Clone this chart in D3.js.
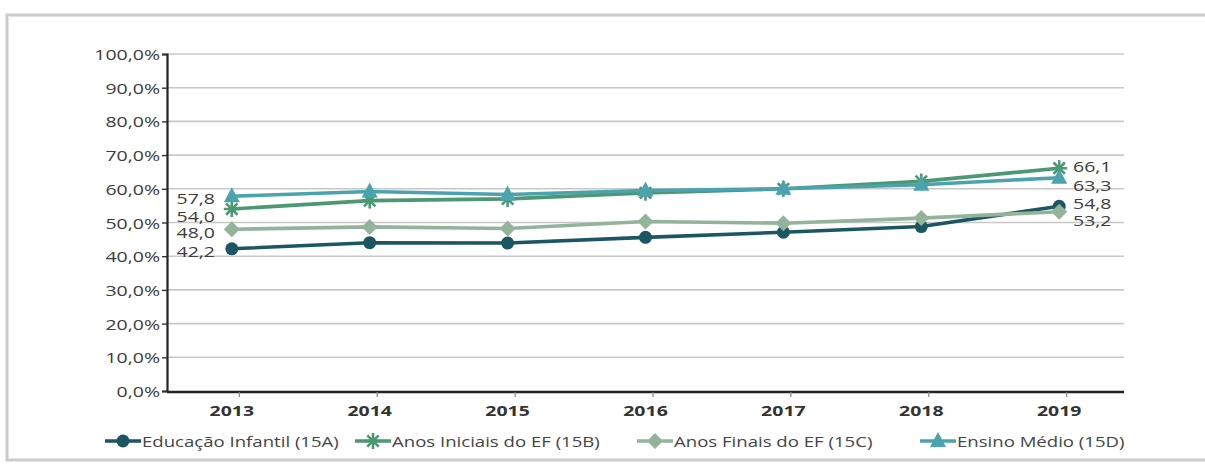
<!DOCTYPE html>
<html>
<head>
    <meta charset="utf-8">
    <style>
        body { margin: 0; background: #fff; }
        text { font-family: "Open Sans", sans-serif; fill: #3c3c3c; }
        .grid line { stroke: #c8c8c8; stroke-width: 1.6; }
        .xlab { font-weight: bold; fill: #333; }
    </style>
    <script src="https://d3js.org/d3.v7.min.js"></script>
</head>
<body>
    <svg width="1205" height="464"></svg>
    <script>
        var years = ["2013", "2014", "2015", "2016", "2017", "2018", "2019"];
        var yTicks = [0, 10, 20, 30, 40, 50, 60, 70, 80, 90, 100];

        var seriesNames = ["Educação Infantil (15A)", "Anos Iniciais do EF (15B)", "Anos Finais do EF (15C)", "Ensino Médio (15D)"];
        var infantil = [42.2, 44.0, 43.9, 45.6, 47.1, 48.8, 54.8];
        var iniciais = [54.0, 56.5, 57.0, 58.8, 60.0, 62.2, 66.1];
        var finais = [48.0, 48.7, 48.2, 50.3, 49.8, 51.3, 53.2];
        var medio = [57.8, 59.2, 58.3, 59.5, 60.0, 61.2, 63.3];

        var colors = ["#1c5663", "#4b9872", "#93b49a", "#4ba3ae"];
        var symbols = ["circle", "star", "diamond", "triangle"];
        // label nudges so the end labels don't overlap (first / last point)
        var firstNudge = [2, 7, 3, 2];
        var lastNudge = [-3, -2, 8, 7];

        var allSeries = [infantil, iniciais, finais, medio];

        var svg = d3.select("svg");

        // frame
        svg.append("rect").attr("x", 7).attr("y", 15).attr("width", 1220).attr("height", 445)
           .attr("fill", "none").attr("stroke", "#e4e4e4").attr("stroke-width", 4);
        svg.append("rect").attr("x", 7).attr("y", 15).attr("width", 1220).attr("height", 445)
           .attr("fill", "none").attr("stroke", "#bdbdbd").attr("stroke-width", 1.2);

        var x = d3.scalePoint().domain(years).range([167, 1124]).padding(0.47);
        var y = d3.scaleLinear().domain([0, 100]).range([391, 54]);

        // text in the picture is stretched sideways, so scale it in x
        function stext(parent, tx, ty, str, anchor, size, stretch) {
            return parent.append("text")
                .attr("transform", "translate(" + tx + "," + ty + ") scale(" + stretch + ",1)")
                .attr("text-anchor", anchor)
                .attr("dominant-baseline", "central")
                .style("font-size", size + "px")
                .text(str);
        }

        // gridlines
        svg.append("g").attr("class", "grid")
           .selectAll("line").data(yTicks.slice(1)).enter().append("line")
           .attr("x1", 167).attr("x2", 1124)
           .attr("y1", function(d) { return y(d); }).attr("y2", function(d) { return y(d); });

        // y axis
        var yAxis = svg.append("g").attr("transform", "translate(167,0)")
            .call(d3.axisLeft(y).tickValues(yTicks).tickSize(5).tickFormat(""));
        yAxis.select(".domain").attr("stroke", "#222").attr("stroke-width", 2.2);
        yAxis.selectAll(".tick line").attr("stroke", "#333").attr("stroke-width", 1.4);
        yTicks.forEach(function(t) {
            stext(svg, 160, y(t), t.toFixed(1).replace(".", ",") + "%", "end", 15, 1.3);
        });

        // x axis
        var xAxis = svg.append("g").attr("transform", "translate(0," + (y(0) + 1) + ")")
            .call(d3.axisBottom(x).tickSize(5).tickSizeOuter(0).tickFormat(""));
        xAxis.select(".domain").attr("stroke", "#222").attr("stroke-width", 2.6)
             .attr("d", "M167,0H1124");
        xAxis.selectAll(".tick line").attr("stroke", "#888").attr("stroke-width", 1.2)
             .attr("transform", "translate(7,0)");
        years.forEach(function(yr) {
            stext(svg, x(yr), 410, yr, "middle", 15, 1.3).attr("class", "xlab");
        });

        var star = "M0,-8V8M-8,0H8M-5.7,-5.7L5.7,5.7M-5.7,5.7L5.7,-5.7";

        function marker(g, i) {
            var c = colors[i];
            if (symbols[i] === "circle") {
                g.append("circle").attr("r", 6.5).attr("fill", c);
            } else if (symbols[i] === "star") {
                g.append("path").attr("d", star).attr("stroke", c).attr("stroke-width", 2.6).attr("fill", "none");
            } else if (symbols[i] === "diamond") {
                g.append("path").attr("d", "M0,-8L8,0L0,8L-8,0Z").attr("fill", c);
            } else {
                g.append("path").attr("d", "M0,-9L8,6H-8Z").attr("fill", c);
            }
        }

        var line = d3.line()
            .x(function(d, i) { return x(years[i]); })
            .y(function(d) { return y(d); });

        var drawOrder = [0, 2, 1, 3];
        drawOrder.forEach(function(i) {
            var vals = allSeries[i];
            svg.append("path").datum(vals)
               .attr("d", line)
               .attr("fill", "none")
               .attr("stroke", colors[i])
               .attr("stroke-width", 3.6);
            vals.forEach(function(v, j) {
                var g = svg.append("g").attr("transform", "translate(" + x(years[j]) + "," + y(v) + ")");
                marker(g, i);
            });
        });

        // data labels at ends
        allSeries.forEach(function(vals, i) {
            stext(svg, 215, y(vals[0]) + firstNudge[i], vals[0].toFixed(1).replace(".", ","), "end", 15, 1.3);
            var last = vals[vals.length - 1];
            stext(svg, 1073, y(last) + lastNudge[i], last.toFixed(1).replace(".", ","), "start", 15, 1.3);
        });

        // legend
        var legendX = [105, 355, 637, 920];
        seriesNames.forEach(function(name, i) {
            var lg = svg.append("g").attr("transform", "translate(" + legendX[i] + ",441)");
            lg.append("line").attr("x1", 0).attr("x2", 36).attr("stroke", colors[i]).attr("stroke-width", 3.6);
            var m = lg.append("g").attr("transform", "translate(18,0)");
            marker(m, i);
            stext(lg, 37, 0, name, "start", 15, 1.24).style("fill", "#454545");
        });
    </script>
</body>
</html>
